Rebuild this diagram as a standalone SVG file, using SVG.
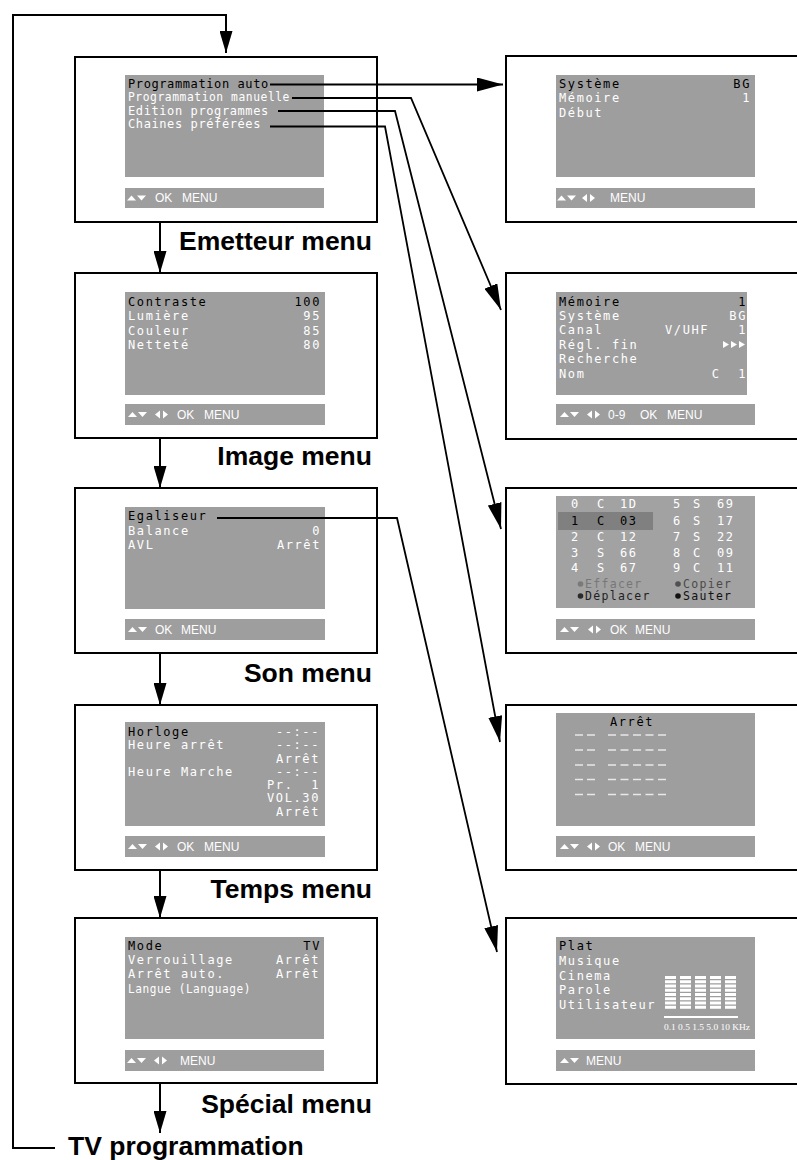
<svg xmlns="http://www.w3.org/2000/svg" width="797" height="1160" viewBox="0 0 797 1160">
<style>
.box{fill:#fff;stroke:#000;stroke-width:2}
.scr{fill:#9e9e9e}
.t{font-family:"DejaVu Sans Mono","Liberation Mono",monospace;font-size:12px;letter-spacing:1.6px;fill:#fff}
.k{fill:#000}
.e{letter-spacing:0.6px}
.r{text-anchor:end}
.b{font-family:"Liberation Sans",Arial,sans-serif;font-size:12px;fill:#fff}
.lab{font-family:"Liberation Sans",Arial,sans-serif;font-weight:bold;font-size:26.5px;text-anchor:end;fill:#000}
.ic{fill:#fff}
.con{fill:none;stroke:#000;stroke-width:1.8}
.dn{fill:none;stroke:#000;stroke-width:2}
.dash{stroke:#e8e8e8;stroke-width:1.3}
.sm{font-size:11.5px;letter-spacing:1.3px}
</style>
<defs>
<marker id="ah" markerUnits="userSpaceOnUse" markerWidth="26" markerHeight="14" refX="26" refY="7" orient="auto"><path d="M0,0 L26,7 L0,14 z" fill="#000"/></marker>
<marker id="ad" markerUnits="userSpaceOnUse" markerWidth="22" markerHeight="13" refX="22" refY="6.5" orient="auto"><path d="M0,0 L22,6.5 L0,13 z" fill="#000"/></marker>
<g id="ud"><polygon points="0,2.5 4.5,-2.5 9,2.5"/><polygon points="10,-2.5 19,-2.5 14.5,2.5"/></g>
<g id="lr"><polygon points="5,-4 0,0 5,4"/><polygon points="8,-4 13,0 8,4"/></g>
</defs>

<!-- Left column -->
<g id="emetteur">
<rect class="box" x="75" y="57" width="302" height="165"/>
<rect class="scr" x="125" y="75" width="199" height="102"/>
<text class="t e k" x="128" y="87.5">Programmation auto</text>
<text class="t e" x="128" y="101" textLength="162" lengthAdjust="spacingAndGlyphs">Programmation manuelle</text>
<text class="t e" x="128" y="114.5">Edition programmes</text>
<text class="t e" x="128" y="128">Chaines préférées</text>
<rect class="scr" x="125" y="188" width="199" height="20"/>
<use href="#ud" class="ic" x="127" y="198"/>
<text class="b" y="202"><tspan x="155">OK</tspan><tspan x="182">MENU</tspan></text>
<text class="lab" x="372" y="250">Emetteur menu</text>
</g>

<g id="image">
<rect class="box" x="75" y="273" width="302" height="165"/>
<rect class="scr" x="125" y="292" width="200" height="103"/>
<text class="t k" x="128" y="305.5">Contraste</text><text class="t k r" x="321" y="305.5">100</text>
<text class="t" x="128" y="320">Lumière</text><text class="t r" x="321" y="320">95</text>
<text class="t" x="128" y="334.5">Couleur</text><text class="t r" x="321" y="334.5">85</text>
<text class="t" x="128" y="349">Netteté</text><text class="t r" x="321" y="349">80</text>
<rect class="scr" x="125" y="404" width="200" height="21"/>
<use href="#ud" class="ic" x="128" y="414.5"/><use href="#lr" class="ic" x="155" y="414.5"/>
<text class="b" y="419"><tspan x="177">OK</tspan><tspan x="204">MENU</tspan></text>
<text class="lab" x="372" y="465">Image menu</text>
</g>

<g id="son">
<rect class="box" x="75" y="488" width="302" height="165"/>
<rect class="scr" x="125" y="507" width="200" height="102"/>
<text class="t k" x="128" y="520">Egaliseur</text>
<text class="t" x="128" y="535">Balance</text><text class="t r" x="321" y="535">0</text>
<text class="t" x="128" y="549">AVL</text><text class="t r" x="321" y="549">Arrêt</text>
<rect class="scr" x="125" y="619" width="200" height="21"/>
<use href="#ud" class="ic" x="128" y="629.5"/>
<text class="b" y="634"><tspan x="155">OK</tspan><tspan x="181">MENU</tspan></text>
<text class="lab" x="372" y="682">Son menu</text>
</g>

<g id="temps">
<rect class="box" x="75" y="705" width="302" height="165"/>
<rect class="scr" x="125" y="722" width="200" height="104"/>
<text class="t k" x="128" y="735.5">Horloge</text><text class="t r" x="320" y="735.5">--:--</text>
<text class="t" x="128" y="749">Heure arrêt</text><text class="t r" x="320" y="749">--:--</text>
<text class="t r" x="320" y="762.5">Arrêt</text>
<text class="t" x="128" y="775.5">Heure Marche</text><text class="t r" x="320" y="775.5">--:--</text>
<text class="t r" x="320" y="789" xml:space="preserve">Pr.  1</text>
<text class="t r" x="320" y="802">VOL.30</text>
<text class="t r" x="320" y="815.5">Arrêt</text>
<rect class="scr" x="125" y="836" width="200" height="21"/>
<use href="#ud" class="ic" x="128" y="846.5"/><use href="#lr" class="ic" x="155" y="846.5"/>
<text class="b" y="851"><tspan x="177">OK</tspan><tspan x="204">MENU</tspan></text>
<text class="lab" x="372" y="898">Temps menu</text>
</g>

<g id="special">
<rect class="box" x="75" y="918" width="302" height="165"/>
<rect class="scr" x="125" y="937" width="199" height="102"/>
<text class="t k" x="128" y="950">Mode</text><text class="t k r" x="321" y="950">TV</text>
<text class="t" x="128" y="964">Verrouillage</text><text class="t r" x="320" y="964">Arrêt</text>
<text class="t" x="128" y="978">Arrêt auto.</text><text class="t r" x="320" y="978">Arrêt</text>
<text class="t e" x="128" y="992.5" textLength="123" lengthAdjust="spacingAndGlyphs">Langue (Language)</text>
<rect class="scr" x="125" y="1050" width="199" height="21"/>
<use href="#ud" class="ic" x="127" y="1060.5"/><use href="#lr" class="ic" x="154" y="1060.5"/>
<text class="b" x="180" y="1065">MENU</text>
<text class="lab" x="372" y="1113">Spécial menu</text>
</g>

<g id="tvprog">
<text class="lab" x="68" y="1155" style="text-anchor:start">TV programmation</text>
</g>

<!-- Right column -->
<g id="auto">
<rect class="box" x="506" y="56" width="300" height="166"/>
<rect class="scr" x="556" y="75" width="199" height="102"/>
<text class="t k" x="559" y="87.5">Système</text><text class="t k r" x="751" y="87.5">BG</text>
<text class="t" x="559" y="102">Mémoire</text><text class="t r" x="751" y="102">1</text>
<text class="t" x="559" y="116.5">Début</text>
<rect class="scr" x="556" y="188" width="199" height="20"/>
<use href="#ud" class="ic" x="557" y="198"/><use href="#lr" class="ic" x="582" y="198"/>
<text class="b" x="610" y="202">MENU</text>
</g>

<g id="manuelle">
<rect class="box" x="506" y="273" width="300" height="166"/>
<rect class="scr" x="556" y="292" width="191" height="103"/>
<text class="t k" x="559" y="305.5">Mémoire</text><text class="t k r" x="747" y="305.5">1</text>
<text class="t" x="559" y="320">Système</text><text class="t r" x="747" y="320">BG</text>
<text class="t" x="559" y="334">Canal</text><text class="t" x="665" y="334">V/UHF</text><text class="t r" x="747" y="334">1</text>
<text class="t" x="559" y="348.5">Régl. fin</text>
<g class="ic"><polygon points="723,341 729,344.5 723,348"/><polygon points="731,341 737,344.5 731,348"/><polygon points="739,341 745,344.5 739,348"/></g>
<text class="t" x="559" y="363">Recherche</text>
<text class="t" x="559" y="377.5">Nom</text><text class="t r" x="747" y="377.5" xml:space="preserve">C  1</text>
<rect class="scr" x="556" y="404" width="199" height="21"/>
<use href="#ud" class="ic" x="560" y="414.5"/><use href="#lr" class="ic" x="587" y="414.5"/>
<text class="b" y="419"><tspan x="608">0-9</tspan><tspan x="640">OK</tspan><tspan x="667">MENU</tspan></text>
</g>

<g id="edition">
<rect class="box" x="506" y="488" width="300" height="165"/>
<rect x="556" y="496" width="199" height="112" fill="#a2a2a2"/>
<rect x="558" y="512" width="95" height="18" fill="#808080"/>
<text class="t" y="508"><tspan x="571">0</tspan><tspan x="597">C</tspan><tspan x="620">1D</tspan><tspan x="673">5</tspan><tspan x="693">S</tspan><tspan x="717">69</tspan></text>
<text class="t" y="525"><tspan x="571" fill="#000">1</tspan><tspan x="597" fill="#000">C</tspan><tspan x="620" fill="#000">03</tspan><tspan x="673">6</tspan><tspan x="693">S</tspan><tspan x="717">17</tspan></text>
<text class="t" y="541"><tspan x="571">2</tspan><tspan x="597">C</tspan><tspan x="620">12</tspan><tspan x="673">7</tspan><tspan x="693">S</tspan><tspan x="717">22</tspan></text>
<text class="t" y="557"><tspan x="571">3</tspan><tspan x="597">S</tspan><tspan x="620">66</tspan><tspan x="673">8</tspan><tspan x="693">C</tspan><tspan x="717">09</tspan></text>
<text class="t" y="572"><tspan x="571">4</tspan><tspan x="597">S</tspan><tspan x="620">67</tspan><tspan x="673">9</tspan><tspan x="693">C</tspan><tspan x="717">11</tspan></text>
<circle cx="580.5" cy="584" r="2.8" fill="#7a7a7a"/><text class="t sm" x="585" y="587.5" style="fill:#777">Effacer</text>
<circle cx="678" cy="584" r="2.8" fill="#505050"/><text class="t sm" x="683" y="587.5" style="fill:#4a4a4a">Copier</text>
<circle cx="580.5" cy="596" r="2.8" fill="#2a2a2a"/><text class="t sm" x="585" y="600" style="fill:#222">Déplacer</text>
<circle cx="678" cy="596" r="2.8" fill="#111"/><text class="t sm" x="683" y="600" style="fill:#111">Sauter</text>
<rect class="scr" x="556" y="619" width="199" height="21"/>
<use href="#ud" class="ic" x="560" y="629.5"/><use href="#lr" class="ic" x="588" y="629.5"/>
<text class="b" y="634"><tspan x="610">OK</tspan><tspan x="635">MENU</tspan></text>
</g>

<g id="preferees">
<rect class="box" x="506" y="705" width="300" height="165"/>
<rect class="scr" x="556" y="713" width="199" height="113"/>
<text class="t k" x="632" y="726" style="text-anchor:middle">Arrêt</text>
<g class="dash">
<line x1="575" y1="735" x2="595" y2="735" stroke-dasharray="8 4"/><line x1="608" y1="735" x2="667" y2="735" stroke-dasharray="8 4.5"/>
<line x1="575" y1="750" x2="595" y2="750" stroke-dasharray="8 4"/><line x1="608" y1="750" x2="667" y2="750" stroke-dasharray="8 4.5"/>
<line x1="575" y1="765" x2="595" y2="765" stroke-dasharray="8 4"/><line x1="608" y1="765" x2="667" y2="765" stroke-dasharray="8 4.5"/>
<line x1="575" y1="779.5" x2="595" y2="779.5" stroke-dasharray="8 4"/><line x1="608" y1="779.5" x2="667" y2="779.5" stroke-dasharray="8 4.5"/>
<line x1="575" y1="794.5" x2="595" y2="794.5" stroke-dasharray="8 4"/><line x1="608" y1="794.5" x2="667" y2="794.5" stroke-dasharray="8 4.5"/>
</g>
<rect class="scr" x="556" y="836" width="199" height="21"/>
<use href="#ud" class="ic" x="560" y="846.5"/><use href="#lr" class="ic" x="587" y="846.5"/>
<text class="b" y="851"><tspan x="608">OK</tspan><tspan x="635">MENU</tspan></text>
</g>

<g id="egaliseur">
<rect class="box" x="506" y="918" width="300" height="166"/>
<rect class="scr" x="556" y="937" width="199" height="102"/>
<text class="t k" x="559" y="950">Plat</text>
<text class="t" x="559" y="965">Musique</text>
<text class="t" x="559" y="979.5">Cinema</text>
<text class="t" x="559" y="994">Parole</text>
<text class="t" x="559" y="1008.5">Utilisateur</text>
<g stroke="#fff" stroke-width="11" stroke-dasharray="3 1.25">
<line x1="670.5" y1="976" x2="670.5" y2="1010"/>
<line x1="685.5" y1="976" x2="685.5" y2="1010"/>
<line x1="700.5" y1="976" x2="700.5" y2="1010"/>
<line x1="715.5" y1="976" x2="715.5" y2="1010"/>
<line x1="730.5" y1="976" x2="730.5" y2="1010"/>
</g>
<line x1="664" y1="1017" x2="738" y2="1017" stroke="#fff" stroke-width="2"/>
<text x="664" y="1030" textLength="86" lengthAdjust="spacingAndGlyphs" style="font-family:'Liberation Serif',serif;font-size:8.5px;fill:#fff">0.1 0.5 1.5 5.0 10 KHz</text>
<rect class="scr" x="556" y="1050" width="199" height="21"/>
<use href="#ud" class="ic" x="560" y="1060.5"/>
<text class="b" x="586" y="1065">MENU</text>
</g>

<g id="connectors">
<path class="dn" d="M55,1148 H13 V15 H226 V53" marker-end="url(#ad)"/>
<line class="dn" x1="160" y1="222" x2="160" y2="273" marker-end="url(#ad)"/>
<line class="dn" x1="160" y1="438" x2="160" y2="488" marker-end="url(#ad)"/>
<line class="dn" x1="160" y1="653" x2="160" y2="705" marker-end="url(#ad)"/>
<line class="dn" x1="160" y1="870" x2="160" y2="918" marker-end="url(#ad)"/>
<line class="dn" x1="160" y1="1083" x2="160" y2="1133" marker-end="url(#ad)"/>
<path class="con" d="M270,84.5 H503" marker-end="url(#ah)"/>
<path class="con" d="M292,98 H411 L501,310" marker-end="url(#ah)"/>
<path class="con" d="M278,111 H395 L501,529" marker-end="url(#ah)"/>
<path class="con" d="M270,126.5 H385 L500,742" marker-end="url(#ah)"/>
<path class="con" d="M217,518 H397 L497,952" marker-end="url(#ah)"/>
</g>
</svg>
